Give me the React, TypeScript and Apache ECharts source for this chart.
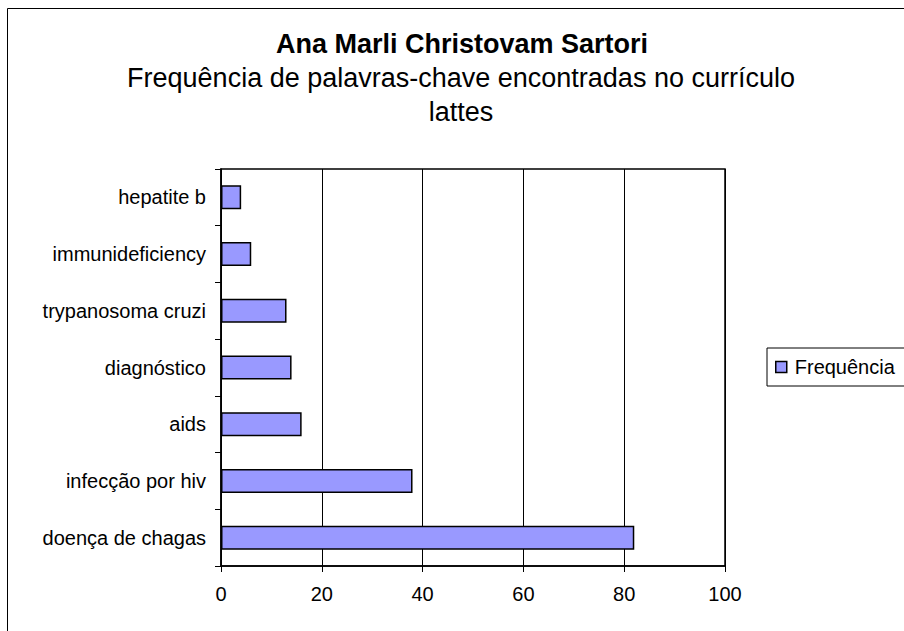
import React, { useEffect, useRef } from "react";
import * as echarts from "echarts";

const categories = [
  "doença de chagas",
  "infecção por hiv",
  "aids",
  "diagnóstico",
  "trypanosoma cruzi",
  "immunideficiency",
  "hepatite b",
];
const frequencia = [82, 38, 16, 14, 13, 6, 4];
const xTicks = { min: 0, max: 100, interval: 20 };
const titleText = "Ana Marli Christovam Sartori";
const subtitleLines = ["Frequência de palavras-chave encontradas no currículo", "lattes"];
const seriesName = "Frequência";

const FONT = "'Liberation Sans', Arial, sans-serif";

export default function App() {
  const ref = useRef<HTMLDivElement>(null);
  useEffect(() => {
    document.body.style.margin = "0";
    const chart = echarts.init(ref.current!, null, { renderer: "svg" });
    chart.setOption({
      animation: false,
      backgroundColor: "#ffffff",
      textStyle: { fontFamily: FONT, color: "#000" },
      graphic: [
        {
          type: "rect",
          shape: { x: 7.5, y: 8.5, width: 1200, height: 1200 },
          style: { fill: "none", stroke: "#000", lineWidth: 1 },
          silent: true,
        },
        {
          type: "text",
          x: 462,
          y: 44,
          style: {
            text: titleText,
            font: `bold 27px ${FONT}`,
            fill: "#000",
            textAlign: "center",
            textVerticalAlign: "middle",
          },
        },
        {
          type: "text",
          x: 461,
          y: 78,
          style: {
            text: subtitleLines[0],
            font: `27px ${FONT}`,
            fill: "#000",
            textAlign: "center",
            textVerticalAlign: "middle",
          },
        },
        {
          type: "text",
          x: 461,
          y: 112,
          style: {
            text: subtitleLines[1],
            font: `27px ${FONT}`,
            fill: "#000",
            textAlign: "center",
            textVerticalAlign: "middle",
          },
        },
      ],
      legend: {
        left: 767,
        top: 348,
        orient: "vertical",
        data: [seriesName],
        icon: "rect",
        itemWidth: 11,
        itemHeight: 11,
        itemGap: 0,
        padding: [9, 30, 9, 8],
        borderColor: "#000",
        borderWidth: 1,
        itemStyle: { borderColor: "#000", borderWidth: 1.5 },
        textStyle: { fontSize: 20, color: "#000", fontFamily: FONT, padding: [0, 0, 0, 3] },
      },
      grid: {
        left: 221,
        top: 169,
        width: 504,
        height: 397,
        show: true,
        borderColor: "#000",
        borderWidth: 1.5,
        containLabel: false,
      },
      xAxis: {
        type: "value",
        min: xTicks.min,
        max: xTicks.max,
        interval: xTicks.interval,
        axisLine: { show: true, lineStyle: { color: "#000", width: 1.5 } },
        axisTick: { show: true, length: 6, lineStyle: { color: "#000" } },
        splitLine: { show: true, lineStyle: { color: "#000", width: 1 } },
        axisLabel: { fontSize: 20, color: "#000", margin: 18, fontFamily: FONT },
      },
      yAxis: {
        type: "category",
        data: categories,
        axisLine: { show: true, lineStyle: { color: "#000", width: 1.5 } },
        axisTick: { show: true, length: 6, lineStyle: { color: "#000" } },
        splitLine: { show: false },
        axisLabel: { fontSize: 20, color: "#000", margin: 15, fontFamily: FONT },
      },
      series: [
        {
          name: seriesName,
          type: "bar",
          data: frequencia,
          barWidth: 24,
          itemStyle: { color: "#9999ff", borderColor: "#000", borderWidth: 1.5 },
        },
      ],
    });
    return () => chart.dispose();
  }, []);
  return <div ref={ref} style={{ width: 904, height: 631 }} />;
}
